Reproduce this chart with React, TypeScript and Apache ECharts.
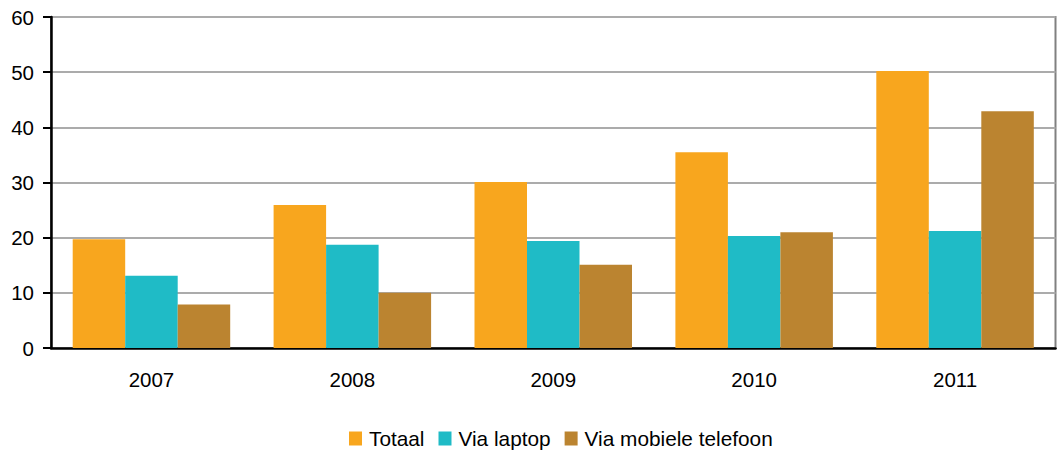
import React, { useEffect, useRef } from "react";
import * as echarts from "echarts";

const categories = ["2007", "2008", "2009", "2010", "2011"];
const seriesNames = ["Totaal", "Via laptop", "Via mobiele telefoon"];
const totaal = [19.7, 25.9, 30.1, 35.5, 50.2];
const viaLaptop = [13.1, 18.7, 19.4, 20.3, 21.2];
const viaMobiel = [7.9, 10.0, 15.1, 21.0, 42.9];
const colors = ["#F8A61E", "#1FBBC6", "#BB8430"];

export default function App() {
  const ref = useRef<HTMLDivElement>(null);
  useEffect(() => {
    if (!ref.current) return;
    const chart = echarts.init(ref.current, undefined, { renderer: "svg" });
    const font = "'Liberation Sans', Arial, sans-serif";
    const values = [totaal, viaLaptop, viaMobiel];
    chart.setOption({
      animation: false,
      textStyle: { fontFamily: font },
      grid: {
        left: 51,
        right: 5.5,
        top: 17,
        bottom: 103,
        show: true,
        borderColor: "#808080",
        borderWidth: 2,
      },
      legend: {
        left: 349,
        top: 428,
        padding: 0,
        itemWidth: 13,
        itemHeight: 14,
        itemGap: 14,
        icon: "rect",
        textStyle: { fontSize: 20.8, color: "#000", fontFamily: font, padding: [0, 0, 0, 2] },
        data: seriesNames,
      },
      xAxis: {
        type: "category",
        data: categories,
        axisLine: { show: true, lineStyle: { color: "#000", width: 2.5 } },
        axisTick: { show: false },
        axisLabel: { fontSize: 20.5, color: "#000", margin: 21, fontFamily: font },
      },
      yAxis: {
        type: "value",
        min: 0,
        max: 60,
        interval: 10,
        axisLine: { show: true, lineStyle: { color: "#000", width: 2.5 } },
        axisTick: { show: true, length: 8, lineStyle: { color: "#000", width: 2 } },
        axisLabel: { fontSize: 20.5, color: "#000", margin: 17, fontFamily: font },
        splitLine: { show: true, lineStyle: { color: "#ABABAB", width: 2 } },
      },
      series: seriesNames.map((name, i) => ({
        name,
        type: "bar",
        data: values[i],
        itemStyle: { color: colors[i] },
        barGap: "0%",
        barCategoryGap: "21.6%",
      })),
    });
    return () => chart.dispose();
  }, []);
  return (
    <div
      ref={ref}
      style={{ position: "fixed", left: 0, top: 0, width: 1061, height: 451, background: "#fff" }}
    />
  );
}
